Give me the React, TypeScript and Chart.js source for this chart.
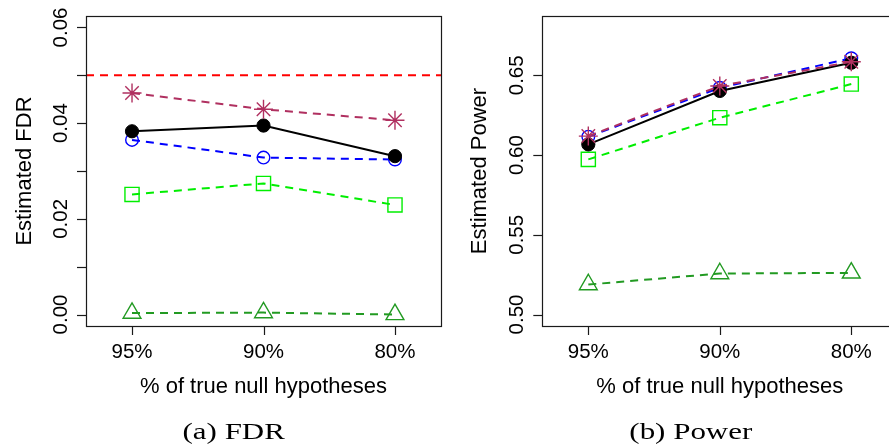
import React, { useEffect, useRef } from "react";
import { Chart, registerables } from "chart.js";
Chart.register(...registerables);

// ---------- data ----------
const categories = ["95%", "90%", "80%"];
const alphaLevel = 0.05;

// FDR panel
const fdrMaroonStar = [0.0463, 0.0429, 0.0406];
const fdrBlackDot = [0.0383, 0.0395, 0.0331];
const fdrBlueCircle = [0.0365, 0.0328, 0.0324];
const fdrGreenSquare = [0.0251, 0.0274, 0.0229];
const fdrDarkGreenTriangle = [0.0003, 0.0004, 0.0];

// Power panel
const powerMaroonStar = [0.6119, 0.6433, 0.6585];
const powerBlackDot = [0.6067, 0.6402, 0.6579];
const powerBlueCircle = [0.6115, 0.6422, 0.6607];
const powerGreenSquare = [0.5973, 0.6234, 0.6445];
const powerDarkGreenTriangle = [0.5188, 0.5257, 0.5261];

// tick values / labels
const fdrYTicks = [0, 0.01, 0.02, 0.03, 0.04, 0.05, 0.06];
const fdrYLabels = ["0.00", "", "0.02", "", "0.04", "", "0.06"];
const powerYTicks = [0.5, 0.55, 0.6, 0.65];
const powerYLabels = ["0.50", "0.55", "0.60", "0.65"];

const xTitle = "% of true null hypotheses";

// ---------- styles ----------
const SANS = '"Liberation Sans", Arial, Helvetica, sans-serif';
const SERIF = '"Liberation Serif", "Times New Roman", serif';
const DASH = [8, 6];

type Series = {
  values: number[];
  color: string;
  style: string;
  radius: number;
  filled: boolean;
  dashed: boolean;
};

function toPoints(values: number[]) {
  return values.map((v, i) => ({ x: i + 1, y: v }));
}

function makeSeries(star: number[], dot: number[], circle: number[], square: number[], tri: number[]): Series[] {
  // first one is drawn on top
  return [
    { values: star, color: "#B03060", style: "star", radius: 9.5, filled: false, dashed: true },
    { values: dot, color: "#000000", style: "circle", radius: 6.6, filled: true, dashed: false },
    { values: circle, color: "#0000FF", style: "circle", radius: 6.3, filled: false, dashed: true },
    { values: square, color: "#00EE00", style: "rect", radius: 10, filled: false, dashed: true },
    { values: tri, color: "#229A22", style: "triangle", radius: 10.3, filled: false, dashed: true },
  ];
}

type PanelProps = {
  width: number;
  height: number;
  left: number;
  pad: { left: number; right: number; top: number; bottom: number };
  yMin: number;
  yMax: number;
  yTicks: number[];
  yLabels: string[];
  yTitle: string;
  yTitleGap: number;
  series: Series[];
  refLine?: number;
  caption: string;
  captionX: number;
};

function Panel(p: PanelProps) {
  const ref = useRef<HTMLCanvasElement>(null);
  useEffect(() => {
    const canvas = ref.current!;
    const axesPlugin = {
      id: "rAxes",
      beforeDatasetsDraw(chart: any) {
        if (p.refLine === undefined) return;
        const ctx = chart.ctx;
        const a = chart.chartArea;
        const y = chart.scales.y.getPixelForValue(p.refLine);
        ctx.save();
        ctx.strokeStyle = "#FF0000";
        ctx.lineWidth = 2;
        ctx.setLineDash(DASH);
        ctx.beginPath();
        ctx.moveTo(a.left, y);
        ctx.lineTo(a.right, y);
        ctx.stroke();
        ctx.restore();
      },
      afterDraw(chart: any) {
        const ctx = chart.ctx;
        const a = chart.chartArea;
        const xs = chart.scales.x;
        const ys = chart.scales.y;
        ctx.save();
        ctx.strokeStyle = "#1a1a1a";
        ctx.lineWidth = 1.2;
        ctx.setLineDash([]);
        ctx.strokeRect(Math.round(a.left) + 0.5, Math.round(a.top) + 0.5, Math.round(a.right - a.left), Math.round(a.bottom - a.top));
        ctx.fillStyle = "#000";
        // y ticks
        ctx.font = `20.5px ${SANS}`;
        p.yTicks.forEach((v, i) => {
          const y = Math.round(ys.getPixelForValue(v)) + 0.5;
          ctx.beginPath();
          ctx.moveTo(a.left - 9, y);
          ctx.lineTo(a.left, y);
          ctx.stroke();
          const lab = p.yLabels[i];
          if (lab) {
            ctx.save();
            ctx.translate(a.left - 19.5, ys.getPixelForValue(v));
            ctx.rotate(-Math.PI / 2);
            ctx.textAlign = "center";
            ctx.textBaseline = "alphabetic";
            ctx.fillText(lab, 0, 0);
            ctx.restore();
          }
        });
        // x ticks
        categories.forEach((c, i) => {
          const x = Math.round(xs.getPixelForValue(i + 1)) + 0.5;
          ctx.beginPath();
          ctx.moveTo(x, a.bottom);
          ctx.lineTo(x, a.bottom + 9);
          ctx.stroke();
          ctx.textAlign = "center";
          ctx.textBaseline = "alphabetic";
          ctx.fillText(c, xs.getPixelForValue(i + 1), a.bottom + 32);
        });
        // titles
        ctx.font = `22px ${SANS}`;
        ctx.textAlign = "center";
        ctx.fillText(xTitle, (a.left + a.right) / 2, a.bottom + 67);
        ctx.save();
        ctx.translate(a.left - p.yTitleGap, (a.top + a.bottom) / 2);
        ctx.rotate(-Math.PI / 2);
        ctx.fillText(p.yTitle, 0, 0);
        ctx.restore();
        // caption
        ctx.save();
        ctx.font = `24px ${SERIF}`;
        ctx.translate(p.captionX, 438.5);
        ctx.scale(1.29, 1);
        ctx.textAlign = "center";
        ctx.fillText(p.caption, 0, 0);
        ctx.restore();
        ctx.restore();
      },
    };

    const chart = new Chart(canvas, {
      type: "line",
      data: {
        datasets: p.series.map((s) => ({
          data: toPoints(s.values),
          borderColor: s.color,
          backgroundColor: s.filled ? s.color : "rgba(0,0,0,0)",
          borderWidth: 2,
          borderDash: s.dashed ? DASH : [],
          pointStyle: s.style as any,
          pointRadius: s.radius,
          pointBorderWidth: s.filled ? 1 : 1.4,
          pointBorderColor: s.color,
          pointBackgroundColor: s.filled ? s.color : "rgba(0,0,0,0)",
          tension: 0,
          fill: false,
        })),
      },
      options: {
        animation: false,
        responsive: false,
        devicePixelRatio: 1,
        layout: { padding: p.pad, autoPadding: false },
        plugins: { legend: { display: false }, tooltip: { enabled: false }, title: { display: false } },
        events: [],
        scales: {
          x: { type: "linear", display: false, min: 0.65, max: 3.35 },
          y: { type: "linear", display: false, min: p.yMin, max: p.yMax },
        },
      },
      plugins: [axesPlugin],
    });
    return () => chart.destroy();
  }, []);
  return (
    <canvas
      ref={ref}
      width={p.width}
      height={p.height}
      style={{ position: "absolute", left: p.left, top: 0, width: p.width, height: p.height }}
    />
  );
}

export default function App() {
  return (
    <div style={{ position: "fixed", left: 0, top: 0, width: 889, height: 447, overflow: "hidden", background: "#fff" }}>
      <Panel
        width={445}
        height={447}
        left={0}
        pad={{ left: 86, right: 4, top: 16, bottom: 121 }}
        yMin={-0.0024}
        yMax={0.0624}
        yTicks={fdrYTicks}
        yLabels={fdrYLabels}
        yTitle="Estimated FDR"
        yTitleGap={55.5}
        series={makeSeries(fdrMaroonStar, fdrBlackDot, fdrBlueCircle, fdrGreenSquare, fdrDarkGreenTriangle)}
        refLine={alphaLevel}
        caption="(a) FDR"
        captionX={233.7}
      />
      <Panel
        width={460}
        height={447}
        left={445}
        pad={{ left: 97.3, right: 7.7, top: 16, bottom: 121 }}
        yMin={0.4928}
        yMax={0.6872}
        yTicks={powerYTicks}
        yLabels={powerYLabels}
        yTitle="Estimated Power"
        yTitleGap={56.5}
        series={makeSeries(powerMaroonStar, powerBlackDot, powerBlueCircle, powerGreenSquare, powerDarkGreenTriangle)}
        caption="(b) Power"
        captionX={245.8}
      />
    </div>
  );
}
